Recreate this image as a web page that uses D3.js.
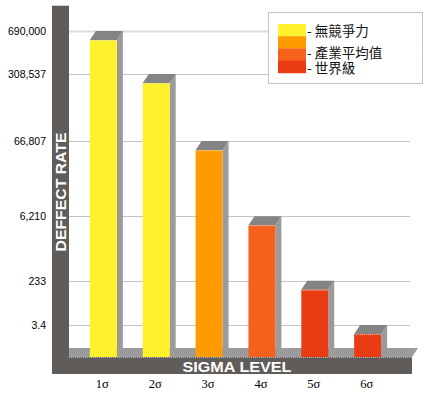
<!DOCTYPE html>
<html>
<head>
<meta charset="utf-8">
<script src="https://cdn.jsdelivr.net/npm/d3@7"></script>
<style>
	html, body { margin: 0; padding: 0; background: #fff; }
	svg { display: block; }
</style>
</head>
<body>
<svg id="chart" width="435" height="393"></svg>
<script>
	// chart data
	var levels = ['1σ', '2σ', '3σ', '4σ', '5σ', '6σ'];
	var defects = [690000, 308537, 66807, 6210, 233, 3.4];
	var barColors = ['#fff22c', '#fff22c', '#ff9a00', '#f5601a', '#ea3c13', '#ea3c13'];
	var tickValues = [690000, 308537, 66807, 6210, 233, 3.4];
	var tickLabels = ['690,000', '308,537', '66,807', '6,210', '233', '3.4'];
	var legendLabels = ['- 無競爭力', '- 產業平均值', '- 世界級'];
	var legendSwatches = ['#fff22c', '#ff9a00', '#f5601a', '#ea3c13'];

	var svg = d3.select('#chart');
	var depthX = 6; // 3d offset of bar tops, in pixels
	var depthY = 9;
	var floorFront = 357;
	var floorBack = floorFront - depthY;
	var wallLeft = 69;
	var wallRight = 410;

	var x = d3.scaleBand().domain(levels).range([64, 407]).paddingInner(0.49).paddingOuter(0.49);
	// the picture's value axis is neither linear nor log, a low power fits it best
	var y = d3.scalePow().exponent(0.17).domain([0, 690000]).range([367, 31]);

	// gridlines on the back wall
	svg.selectAll('line.grid').data(tickValues).enter().append('line')
		.attr('class', 'grid')
		.attr('x1', wallLeft)
		.attr('x2', wallRight)
		.attr('y1', function(d) { return Math.round(y(d)) + 0.5; })
		.attr('y2', function(d) { return Math.round(y(d)) + 0.5; })
		.attr('stroke', function(d, i) { return i === 0 ? '#dcdcdc' : '#c4c4c4'; })
		.attr('stroke-width', function(d, i) { return i === 0 ? 2 : 1.2; });

	// floor
	svg.append('path')
		.attr('d', 'M' + wallLeft + ',' + floorBack + 'L' + (wallRight + 2 + depthX) + ',' + floorBack +
			'L' + (wallRight + 2) + ',' + floorFront + 'L' + wallLeft + ',' + floorFront + 'Z')
		.attr('fill', '#9b9b9b');

	// bars
	var bars = svg.selectAll('g.bar').data(defects).enter().append('g').attr('class', 'bar');
	bars.append('path') // side
		.attr('d', function(d, i) {
			var x1 = x(levels[i]) + x.bandwidth();
			var top = y(d) + depthY;
			return 'M' + x1 + ',' + top + 'L' + (x1 + depthX) + ',' + (top - depthY) +
				'L' + (x1 + depthX) + ',' + floorBack + 'L' + x1 + ',' + floorFront + 'Z';
		})
		.attr('fill', '#9b9b9b');
	bars.append('path') // top
		.attr('d', function(d, i) {
			var x0 = x(levels[i]);
			var x1 = x0 + x.bandwidth();
			var top = y(d) + depthY;
			return 'M' + x0 + ',' + top + 'L' + (x0 + depthX) + ',' + (top - depthY) +
				'L' + (x1 + depthX) + ',' + (top - depthY) + 'L' + x1 + ',' + top + 'Z';
		})
		.attr('fill', '#848484');
	bars.append('rect') // front
		.attr('x', function(d, i) { return x(levels[i]); })
		.attr('y', function(d) { return y(d) + depthY; })
		.attr('width', x.bandwidth())
		.attr('height', function(d) { return floorFront - y(d) - depthY; })
		.attr('fill', function(d, i) { return barColors[i]; });
	bars.append('line') // dotted front edge
		.attr('x1', function(d, i) { return x(levels[i]); })
		.attr('x2', function(d, i) { return x(levels[i]) + x.bandwidth(); })
		.attr('y1', function(d) { return y(d) + depthY + 0.5; })
		.attr('y2', function(d) { return y(d) + depthY + 0.5; })
		.attr('stroke', '#d8d8d8')
		.attr('stroke-dasharray', '1,1');

	// dark axis bars
	svg.append('rect').attr('x', 52).attr('y', 5).attr('width', 17).attr('height', 369).attr('fill', '#5f5c5a');
	svg.append('rect').attr('x', 52).attr('y', floorFront).attr('width', wallRight + 2 - 52).attr('height', 17).attr('fill', '#5f5c5a');
	svg.append('line').attr('x1', 52).attr('x2', 69).attr('y1', 5.5).attr('y2', 5.5).attr('stroke', '#cfcfcf');
	svg.append('line')
		.attr('x1', wallLeft).attr('x2', wallRight + 2)
		.attr('y1', floorFront + 0.5).attr('y2', floorFront + 0.5)
		.attr('stroke', '#bdbdbd').attr('stroke-dasharray', '1,1');

	svg.append('text')
		.attr('transform', 'translate(66,192) rotate(-90)')
		.attr('text-anchor', 'middle')
		.attr('font-family', 'Liberation Sans, Arial, sans-serif')
		.attr('font-weight', 'bold')
		.attr('font-size', 15)
		.attr('textLength', 119)
		.attr('lengthAdjust', 'spacingAndGlyphs')
		.attr('fill', '#fff')
		.text('DEFFECT RATE');
	svg.append('text')
		.attr('x', 237)
		.attr('y', 372)
		.attr('text-anchor', 'middle')
		.attr('font-family', 'Liberation Sans, Arial, sans-serif')
		.attr('font-weight', 'bold')
		.attr('font-size', 15)
		.attr('textLength', 109)
		.attr('lengthAdjust', 'spacingAndGlyphs')
		.attr('fill', '#fff')
		.text('SIGMA LEVEL');

	// tick labels
	svg.selectAll('text.ytick').data(tickValues).enter().append('text')
		.attr('class', 'ytick')
		.attr('x', 46)
		.attr('y', function(d) { return y(d) + 4; })
		.attr('text-anchor', 'end')
		.attr('font-family', 'Liberation Sans, Arial, sans-serif')
		.attr('font-size', 10.5)
		.attr('fill', '#000')
		.text(function(d, i) { return tickLabels[i]; });
	svg.selectAll('text.xtick').data(levels).enter().append('text')
		.attr('class', 'xtick')
		.attr('x', function(d) { return x(d) + x.bandwidth() / 2 - 1; })
		.attr('y', 388)
		.attr('text-anchor', 'middle')
		.attr('font-family', 'Liberation Serif, Times New Roman, serif')
		.attr('font-size', 12.5)
		.attr('fill', '#000')
		.text(function(d) { return d; });

	// legend
	var legend = svg.append('g');
	legend.append('rect')
		.attr('x', 268.5).attr('y', 12.5).attr('width', 154).attr('height', 71)
		.attr('fill', '#fff').attr('stroke', '#8a8a8a').attr('stroke-dasharray', '1,1');
	legend.selectAll('rect.swatch').data(legendSwatches).enter().append('rect')
		.attr('class', 'swatch')
		.attr('x', 278)
		.attr('y', function(d, i) { return 24 + i * 12.25; })
		.attr('width', 28)
		.attr('height', 12.5)
		.attr('fill', function(d) { return d; });
	var legendBaselines = [36, 58, 73];
	legend.selectAll('text.item').data(legendLabels).enter().append('text')
		.attr('class', 'item')
		.attr('x', 307)
		.attr('y', function(d, i) { return legendBaselines[i]; })
		.attr('font-family', 'Noto Sans CJK TC, sans-serif')
		.attr('font-size', 13.5)
		.attr('fill', '#111')
		.text(function(d) { return d; });
</script>
</body>
</html>
